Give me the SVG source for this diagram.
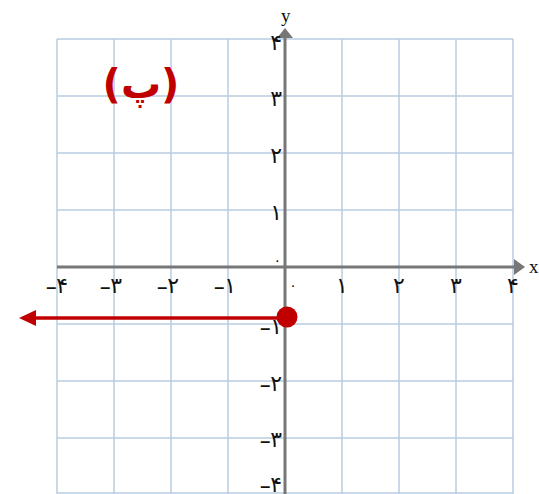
<svg xmlns="http://www.w3.org/2000/svg" width="539" height="494" viewBox="0 0 539 494">
<style>
.grid{stroke:#b9cde0;stroke-width:1.5;fill:none}
.axis{stroke:#777;stroke-width:3;fill:none}
.num{font-family:"DejaVu Sans",sans-serif;font-size:22px;fill:#111}
.m{font-family:"Liberation Sans",sans-serif;font-size:18px;font-weight:bold}
.lbl{font-family:"Liberation Serif",serif;font-size:19px;fill:#111}
.red{stroke:#c00000;stroke-width:3.5;fill:none}
</style>
<rect width="539" height="494" fill="#fff"/>
<g id="grid" class="grid">
<path d="M57,39V494M114,39V494M171,39V494M228,39V494M342,39V494M399,39V494M456,39V494M513,39V494"/>
<path d="M57,39H513M57,96H513M57,153H513M57,210H513M57,324H513M57,381H513M57,438H513M57,493H513"/>
</g>
<g id="axes">
<path class="axis" d="M57,267H516"/>
<path d="M514,259L525,267L514,275z" fill="#777"/>
<path class="axis" d="M285,494V36"/>
<path d="M277,38L285,28L293,38z" fill="#777"/>
<text class="lbl" x="529" y="273">x</text>
<text class="lbl" x="281" y="22">y</text>
</g>
<g id="xlabels" class="num" text-anchor="middle">
<text x="342" y="293">۱</text>
<text x="399" y="293">۲</text>
<text x="456" y="293">۳</text>
<text x="513" y="293">۴</text>
<text x="293" y="290" font-size="14">۰</text>
<text x="236" y="293" text-anchor="end"><tspan class="m">–</tspan>۱</text>
<text x="179" y="293" text-anchor="end"><tspan class="m">–</tspan>۲</text>
<text x="122" y="293" text-anchor="end"><tspan class="m">–</tspan>۳</text>
<text x="68" y="293" text-anchor="end"><tspan class="m">–</tspan>۴</text>
</g>
<g id="ylabels" class="num" text-anchor="end">
<text x="282" y="50">۴</text>
<text x="282" y="106">۳</text>
<text x="282" y="163">۲</text>
<text x="282" y="220">۱</text>
<text x="281" y="265" font-size="14">۰</text>
<text x="282" y="334"><tspan class="m">–</tspan>۱</text>
<text x="282" y="391"><tspan class="m">–</tspan>۲</text>
<text x="282" y="447"><tspan class="m">–</tspan>۳</text>
<text x="282" y="492"><tspan class="m">–</tspan>۴</text>
</g>
<g id="ray">
<path class="red" d="M287,318H34"/>
<path d="M19,318L36,310L36,326z" fill="#c00000"/>
<circle cx="287" cy="317" r="10.5" fill="#c00000"/>
</g>
<text id="title" x="141" y="98" text-anchor="middle" font-family="DejaVu Sans,sans-serif" font-weight="bold" font-size="40" letter-spacing="-2" fill="#c00000">(پ)</text>
</svg>
